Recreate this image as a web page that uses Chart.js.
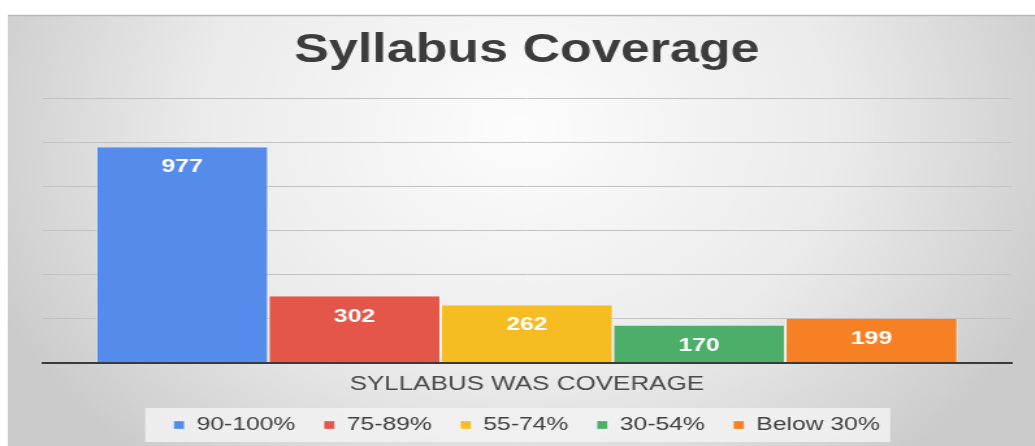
<!DOCTYPE html>
<html>
<head>
<meta charset="utf-8">
<script src="https://cdn.jsdelivr.net/npm/chart.js@4"></script>
<style>
  html, body { margin: 0; padding: 0; background: #fff; overflow: hidden; }
  /* the reference is stretched sideways, so the chart is drawn narrower and widened */
  #chart { position: absolute; left: 0; top: 0; transform: scaleX(1.3); transform-origin: 0 0; }
</style>
</head>
<body>
<canvas id="chart" width="796" height="446"></canvas>
<script>
var categories = ['SYLLABUS WAS COVERAGE'];
var seriesNames = ['90-100%', '75-89%', '55-74%', '30-54%', 'Below 30%'];
var seriesValues = [977, 302, 262, 170, 199];
var seriesColors = ['#558cec', '#e5564a', '#f6bd22', '#4dae69', '#f88024'];
var yTicks = [0, 200, 400, 600, 800, 1000, 1200];

var FONT = '"Liberation Sans", Arial, sans-serif';

/* grey gradient panel behind the chart, plus the light box behind the legend */
var frameBackground = {
  id: 'frameBackground',
  beforeDraw: function(chart) {
    var ctx = chart.ctx, w = chart.width, h = chart.height;
    ctx.save();
    var g = ctx.createRadialGradient(400, 130, 10, 400, 130, 440);
    g.addColorStop(0, '#fcfcfc');
    g.addColorStop(0.55, '#ebebeb');
    g.addColorStop(1, '#cbcbcb');
    ctx.fillStyle = g;
    ctx.fillRect(6, 15, w - 6, h - 15);
    ctx.strokeStyle = '#b8b8b8';
    ctx.lineWidth = 1.5;
    ctx.beginPath();
    ctx.moveTo(6, 15.5);
    ctx.lineTo(w, 15.5);
    ctx.stroke();

    var boxes = chart.legend && chart.legend.legendHitBoxes;
    if (boxes && boxes.length) {
      var l = Infinity, r = -Infinity;
      boxes.forEach(function(b) {
        l = Math.min(l, b.left);
        r = Math.max(r, b.left + b.width);
      });
      var mid = boxes[0].top + boxes[0].height / 2;
      ctx.fillStyle = 'rgba(242,242,242,0.85)';
      ctx.fillRect(l - 22, mid - 17, r - l + 30, 34);
    }
    ctx.restore();
  }
};

/* white value labels near the top of each bar */
var valueLabels = {
  id: 'valueLabels',
  afterDatasetsDraw: function(chart) {
    var ctx = chart.ctx;
    ctx.save();
    ctx.font = 'bold 19px ' + FONT;
    ctx.fillStyle = '#ffffff';
    ctx.textAlign = 'center';
    ctx.textBaseline = 'middle';
    chart.data.datasets.forEach(function(ds, i) {
      chart.getDatasetMeta(i).data.forEach(function(bar, j) {
        ctx.fillText(ds.data[j], bar.x, bar.y + 20);
      });
    });
    ctx.restore();
  }
};

var ctx = document.getElementById('chart').getContext('2d');
var myChart = new Chart(ctx, {
  type: 'bar',
  data: {
    labels: categories,
    datasets: seriesNames.map(function(name, i) {
      return {
        label: name,
        data: [seriesValues[i]],
        backgroundColor: seriesColors[i],
        borderColor: 'rgba(255,255,255,0.55)',
        borderWidth: { top: 0, right: 1, bottom: 0, left: 1 },
        barPercentage: 1,
        categoryPercentage: 0.889
      };
    })
  },
  options: {
    responsive: false,
    animation: false,
    devicePixelRatio: 1,
    layout: { padding: { top: 15, left: 32.5, right: 18, bottom: 1.5 } },
    plugins: {
      title: {
        display: true,
        text: 'Syllabus Coverage',
        color: '#3c3c3c',
        font: { family: FONT, size: 40, weight: 'bold' },
        padding: { top: 12, bottom: 23 }
      },
      legend: {
        position: 'bottom',
        labels: {
          boxWidth: 8,
          boxHeight: 8,
          padding: 22,
          color: '#404040',
          font: { family: FONT, size: 19 }
        }
      },
      tooltip: { enabled: false }
    },
    scales: {
      x: {
        grid: { display: false, drawTicks: false },
        border: { display: true, color: '#3a3a3a', width: 2, z: 1 },
        ticks: { color: '#4a4a4a', font: { family: FONT, size: 20 }, padding: 9 },
        afterFit: function(scale) { scale.height = 30.5; }
      },
      y: {
        min: yTicks[0],
        max: yTicks[yTicks.length - 1],
        ticks: { display: false, stepSize: yTicks[1] - yTicks[0] },
        grid: { color: '#c2c2c2', lineWidth: 1, drawTicks: false },
        border: { display: false }
      }
    }
  },
  plugins: [frameBackground, valueLabels]
});
</script>
</body>
</html>
